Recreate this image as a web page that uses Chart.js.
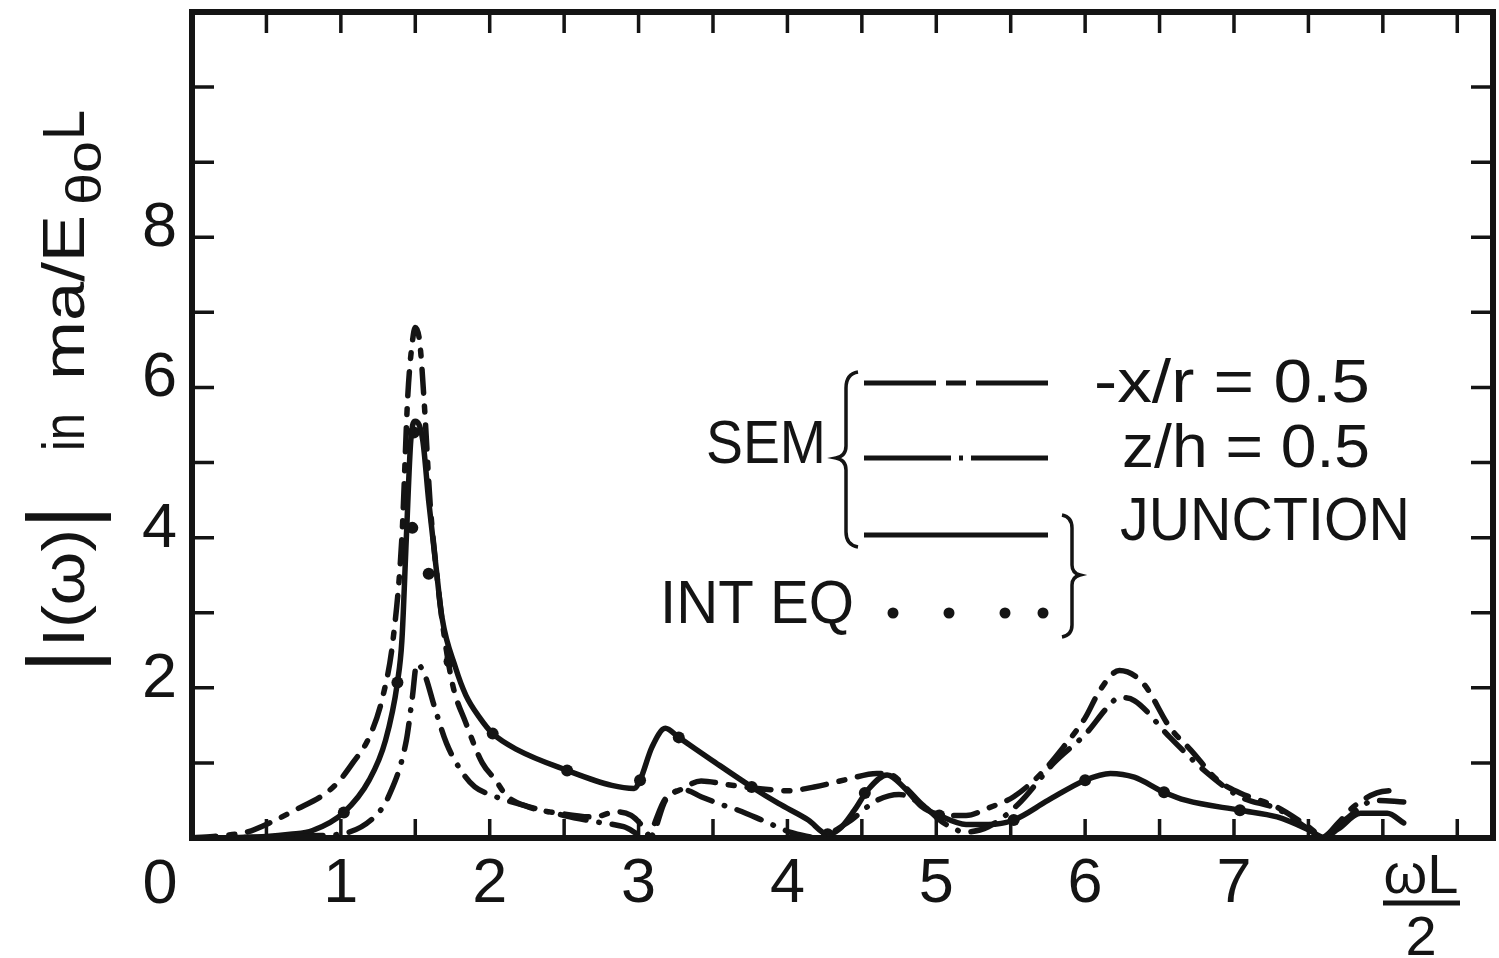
<!DOCTYPE html>
<html>
<head>
<meta charset="utf-8">
<title>|I(w)| spectrum</title>
<script src="https://cdn.jsdelivr.net/npm/chart.js@4.4.1/dist/chart.umd.min.js"></script>
<style>
  html, body { margin: 0; padding: 0; background: #fff; }
  canvas { display: block; }
</style>
</head>
<body>
<canvas id="spectrum" width="1499" height="958"></canvas>
<script>
// SEM, -x/r = 0.5  (long / short dash)
const negX = [0, 0.2, 0.37, 0.52, 0.7, 0.88, 0.98, 1.08, 1.19, 1.28, 1.35, 1.41, 1.45, 1.48, 1.5, 1.53, 1.56, 1.6, 1.64, 1.68, 1.75, 1.84, 1.95, 2.04, 2.11, 2.25, 2.5, 2.7, 2.85, 2.95, 3.03, 3.08, 3.18, 3.3, 3.42, 3.6, 3.8, 4.0, 4.18, 4.4, 4.6, 4.7, 4.8, 4.92, 5.05, 5.2, 5.35, 5.52, 5.7, 5.85, 6.0, 6.1, 6.23, 6.39, 6.57, 6.71, 6.89, 7.04, 7.29, 7.5, 7.6, 7.7, 7.8, 7.96, 8.12];
const negY = [0, 0.03, 0.08, 0.2, 0.38, 0.57, 0.74, 1.0, 1.34, 1.87, 2.63, 4.0, 5.9, 6.6, 6.8, 6.6, 5.8, 4.45, 3.6, 2.9, 2.05, 1.53, 1.0, 0.77, 0.57, 0.42, 0.32, 0.28, 0.35, 0.3, 0.15, 0.02, 0.5, 0.66, 0.76, 0.71, 0.66, 0.63, 0.68, 0.78, 0.86, 0.84, 0.66, 0.42, 0.3, 0.3, 0.4, 0.55, 0.85, 1.2, 1.6, 1.97, 2.23, 2.06, 1.47, 1.17, 0.77, 0.6, 0.41, 0.15, 0.02, 0.2, 0.41, 0.6, 0.64];

// SEM, z/h = 0.5  (dash dot)
const zhX = [0, 0.5, 0.8, 1.04, 1.24, 1.32, 1.44, 1.48, 1.51, 1.56, 1.63, 1.71, 1.82, 1.9, 2.0, 2.2, 2.5, 2.7, 2.9, 3.05, 3.18, 3.31, 3.42, 3.55, 3.67, 3.85, 4.03, 4.2, 4.4, 4.6, 4.75, 4.9, 5.05, 5.2, 5.35, 5.55, 5.79, 6.01, 6.15, 6.23, 6.33, 6.57, 6.8, 7.04, 7.3, 7.5, 7.6, 7.75, 7.95, 8.14];
const zhY = [0, 0.01, 0.03, 0.07, 0.31, 0.55, 1.3, 1.87, 2.32, 2.19, 1.74, 1.26, 0.86, 0.68, 0.58, 0.45, 0.3, 0.22, 0.15, 0.02, 0.52, 0.64, 0.55, 0.45, 0.37, 0.22, 0.07, 0.01, 0.2, 0.5, 0.58, 0.45, 0.2, 0.08, 0.15, 0.45, 1.0, 1.4, 1.74, 1.87, 1.83, 1.34, 0.9, 0.55, 0.38, 0.12, 0.01, 0.25, 0.5, 0.48];

// SEM, junction  (solid)
const junX = [0, 0.5, 0.66, 0.81, 1.02, 1.19, 1.3, 1.38, 1.41, 1.44, 1.47, 1.5, 1.55, 1.59, 1.64, 1.68, 1.77, 1.84, 1.93, 2.02, 2.19, 2.52, 2.82, 2.97, 3.01, 3.09, 3.18, 3.27, 3.49, 3.76, 3.94, 4.14, 4.27, 4.35, 4.45, 4.54, 4.67, 4.78, 4.9, 5.02, 5.2, 5.35, 5.52, 5.75, 6.0, 6.17, 6.33, 6.53, 6.68, 7.04, 7.29, 7.51, 7.6, 7.7, 7.85, 8.03, 8.14];
const junY = [0, 0.02, 0.05, 0.1, 0.34, 0.77, 1.3, 2.07, 2.63, 4.0, 5.3, 5.55, 5.3, 4.49, 3.6, 2.93, 2.27, 1.9, 1.61, 1.39, 1.17, 0.9, 0.7, 0.66, 0.77, 1.21, 1.46, 1.34, 1.04, 0.68, 0.46, 0.24, 0.05, 0.12, 0.37, 0.64, 0.84, 0.68, 0.42, 0.3, 0.18, 0.18, 0.24, 0.5, 0.77, 0.86, 0.81, 0.61, 0.5, 0.37, 0.28, 0.1, 0.01, 0.12, 0.33, 0.33, 0.2];

// integral equation points
const intX = [1.02, 1.38, 1.48, 1.49, 1.59, 1.73, 2.02, 2.52, 3.01, 3.27, 3.76, 4.27, 4.52, 5.02, 5.52, 6.0, 6.53, 7.04];
const intY = [0.34, 2.07, 4.13, 5.4, 3.52, 2.35, 1.39, 0.9, 0.77, 1.34, 0.68, 0.05, 0.6, 0.3, 0.24, 0.77, 0.61, 0.37];

// tick labels
const xTickLabels = [1, 2, 3, 4, 5, 6, 7];
const yTickLabels = [2, 4, 6, 8];

const ink = '#141414';
const sans = '"Liberation Sans", Arial, sans-serif';

function pts(xs, ys) {
  return xs.map((x, i) => ({ x: x, y: ys[i] }));
}

// draw text squeezed/stretched to a given width, left edge at x
function fitText(ctx, text, x, y, width, size) {
  ctx.save();
  ctx.font = size + 'px ' + sans;
  const w = ctx.measureText(text).width;
  ctx.translate(x, y);
  ctx.scale(width / w, 1);
  ctx.textAlign = 'left';
  ctx.textBaseline = 'alphabetic';
  ctx.fillText(text, 0, 0);
  ctx.restore();
}

const framePlugin = {
  id: 'frame',
  beforeDatasetsDraw(chart) {
    const ctx = chart.ctx;
    const a = chart.chartArea;
    const x = chart.scales.x, y = chart.scales.y;
    ctx.save();
    ctx.strokeStyle = ink;
    ctx.lineWidth = 6;
    ctx.strokeRect(a.left, a.top, a.right - a.left, a.bottom - a.top);
    ctx.lineWidth = 3.5;
    ctx.beginPath();
    for (let v = 0.5; v < x.max; v += 0.5) {
      const px = x.getPixelForValue(v);
      ctx.moveTo(px, a.top); ctx.lineTo(px, a.top + 21);
      ctx.moveTo(px, a.bottom); ctx.lineTo(px, a.bottom - 19);
    }
    for (let v = 1; v < y.max; v++) {
      const py = y.getPixelForValue(v);
      ctx.moveTo(a.left, py); ctx.lineTo(a.left + 22, py);
      ctx.moveTo(a.right, py); ctx.lineTo(a.right - 22, py);
    }
    ctx.stroke();
    ctx.restore();
  },
  afterDraw(chart) {
    const ctx = chart.ctx;
    const x = chart.scales.x, y = chart.scales.y;
    ctx.save();
    ctx.fillStyle = ink;
    ctx.strokeStyle = ink;

    // tick labels
    ctx.font = '63px ' + sans;
    ctx.textAlign = 'center';
    ctx.textBaseline = 'alphabetic';
    xTickLabels.forEach(v => ctx.fillText(String(v), x.getPixelForValue(v), 902));
    ctx.fillText('0', 160, 903);
    ctx.textAlign = 'right';
    yTickLabels.forEach(v => ctx.fillText(String(v), 177, y.getPixelForValue(v) + 9));

    // x title  wL / 2
    ctx.textAlign = 'center';
    ctx.font = '56px ' + sans;
    ctx.fillText('ωL', 1421, 893);
    ctx.fillText('2', 1421, 955);
    ctx.lineWidth = 5;
    ctx.beginPath();
    ctx.moveTo(1383, 903); ctx.lineTo(1460, 903);
    ctx.stroke();

    // y title, rotated
    ctx.save();
    ctx.translate(84, 663);
    ctx.rotate(-Math.PI / 2);
    ctx.textAlign = 'left';
    ctx.font = '92px ' + sans;
    ctx.fillText('|', -10, 8);
    ctx.fillText('|', 134, 8);
    fitText(ctx, 'I(ω)', 16, 0, 118, 60);
    fitText(ctx, 'in', 212, 0, 38, 60);
    fitText(ctx, 'ma/E', 283, 0, 165, 60);
    fitText(ctx, 'θo', 458, 17, 64, 50);
    fitText(ctx, 'L', 523, 0, 30, 60);
    ctx.restore();

    // legend text
    fitText(ctx, '-x/r = 0.5', 1094, 402, 276, 62);
    fitText(ctx, 'z/h = 0.5', 1122, 467, 248, 62);
    fitText(ctx, 'JUNCTION', 1120, 540, 290, 62);
    fitText(ctx, 'SEM', 706, 463, 120, 62);
    fitText(ctx, 'INT EQ', 660, 623, 194, 62);

    // legend samples
    ctx.lineWidth = 5;
    ctx.lineCap = 'butt';
    ctx.setLineDash([72, 10, 20, 10, 72]);
    ctx.beginPath(); ctx.moveTo(864, 383); ctx.lineTo(1048, 383); ctx.stroke();
    ctx.setLineDash([87, 8, 4, 8, 80]);
    ctx.beginPath(); ctx.moveTo(864, 458); ctx.lineTo(1048, 458); ctx.stroke();
    ctx.setLineDash([]);
    ctx.beginPath(); ctx.moveTo(864, 535); ctx.lineTo(1048, 535); ctx.stroke();
    [893, 949, 1005, 1043].forEach(px => {
      ctx.beginPath(); ctx.arc(px, 613, 5.5, 0, Math.PI * 2); ctx.fill();
    });

    // braces
    ctx.lineWidth = 3.5;
    ctx.beginPath();
    ctx.moveTo(858, 372);
    ctx.quadraticCurveTo(846, 374, 846, 388);
    ctx.lineTo(846, 446);
    ctx.quadraticCurveTo(846, 456, 836, 458);
    ctx.quadraticCurveTo(846, 460, 846, 470);
    ctx.lineTo(846, 532);
    ctx.quadraticCurveTo(846, 545, 858, 547);
    ctx.stroke();
    ctx.beginPath();
    ctx.moveTo(1062, 515);
    ctx.quadraticCurveTo(1072, 517, 1072, 528);
    ctx.lineTo(1072, 565);
    ctx.quadraticCurveTo(1072, 573, 1080, 575);
    ctx.quadraticCurveTo(1072, 577, 1072, 585);
    ctx.lineTo(1072, 625);
    ctx.quadraticCurveTo(1072, 635, 1062, 637);
    ctx.stroke();

    ctx.restore();
  }
};

const lineBase = {
  showLine: true,
  pointRadius: 0,
  borderColor: ink,
  borderWidth: 5.5,
  borderCapStyle: 'round',
  borderJoinStyle: 'round',
  cubicInterpolationMode: 'monotone',
  fill: false
};

new Chart(document.getElementById('spectrum'), {
  type: 'scatter',
  data: {
    datasets: [
      Object.assign({}, lineBase, { label: '-x/r = 0.5', data: pts(negX, negY), borderDash: [24, 13, 6, 13] }),
      Object.assign({}, lineBase, { label: 'z/h = 0.5', data: pts(zhX, zhY), borderDash: [26, 13, 0.5, 13] }),
      Object.assign({}, lineBase, { label: 'JUNCTION', data: pts(junX, junY) }),
      {
        label: 'INT EQ',
        data: pts(intX, intY),
        showLine: false,
        pointRadius: 6,
        pointBackgroundColor: ink,
        pointBorderColor: ink,
        pointBorderWidth: 0
      }
    ]
  },
  options: {
    responsive: false,
    devicePixelRatio: 1,
    animation: false,
    layout: { padding: { left: 192, right: 3, top: 12, bottom: 120 } },
    scales: {
      x: { type: 'linear', min: 0, max: 8.74, display: false },
      y: { type: 'linear', min: 0, max: 11, display: false }
    },
    plugins: {
      legend: { display: false },
      tooltip: { enabled: false }
    }
  },
  plugins: [framePlugin]
});
</script>
</body>
</html>
